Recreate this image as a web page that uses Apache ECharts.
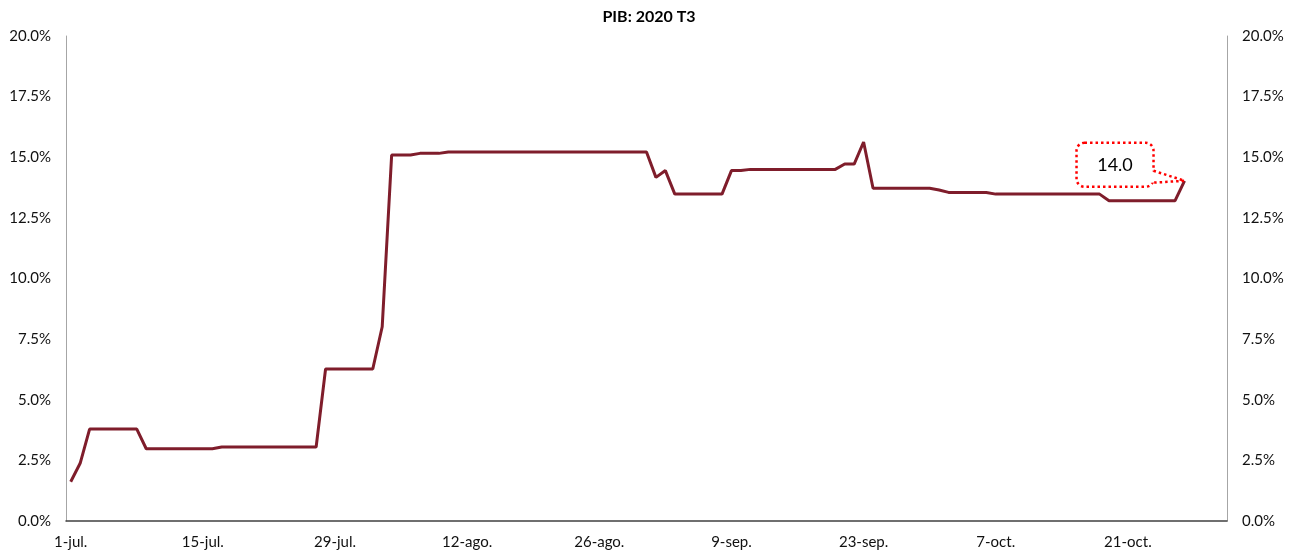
<!DOCTYPE html>
<html>
<head>
<meta charset="utf-8">
<script src="https://cdn.jsdelivr.net/npm/echarts@6/dist/echarts.min.js"></script>
<style>
html,body{margin:0;padding:0;background:#fff;}
#chart{width:1298px;height:558px;}
</style>
</head>
<body>
<div id="chart"></div>
<script>
const title = 'PIB: 2020 T3';

const categories = [
'1-jul.','2-jul.','3-jul.','4-jul.','5-jul.','6-jul.','7-jul.','8-jul.','9-jul.','10-jul.',
'11-jul.','12-jul.','13-jul.','14-jul.','15-jul.','16-jul.','17-jul.','18-jul.','19-jul.','20-jul.',
'21-jul.','22-jul.','23-jul.','24-jul.','25-jul.','26-jul.','27-jul.','28-jul.','29-jul.','30-jul.','31-jul.',
'1-ago.','2-ago.','3-ago.','4-ago.','5-ago.','6-ago.','7-ago.','8-ago.','9-ago.','10-ago.',
'11-ago.','12-ago.','13-ago.','14-ago.','15-ago.','16-ago.','17-ago.','18-ago.','19-ago.','20-ago.',
'21-ago.','22-ago.','23-ago.','24-ago.','25-ago.','26-ago.','27-ago.','28-ago.','29-ago.','30-ago.','31-ago.',
'1-sep.','2-sep.','3-sep.','4-sep.','5-sep.','6-sep.','7-sep.','8-sep.','9-sep.','10-sep.',
'11-sep.','12-sep.','13-sep.','14-sep.','15-sep.','16-sep.','17-sep.','18-sep.','19-sep.','20-sep.',
'21-sep.','22-sep.','23-sep.','24-sep.','25-sep.','26-sep.','27-sep.','28-sep.','29-sep.','30-sep.',
'1-oct.','2-oct.','3-oct.','4-oct.','5-oct.','6-oct.','7-oct.','8-oct.','9-oct.','10-oct.',
'11-oct.','12-oct.','13-oct.','14-oct.','15-oct.','16-oct.','17-oct.','18-oct.','19-oct.','20-oct.',
'21-oct.','22-oct.','23-oct.','24-oct.','25-oct.','26-oct.','27-oct.','28-oct.','29-oct.','30-oct.','31-oct.'
];

// PIB 2020 T3 nowcast (%), daily from 1-jul. to 27-oct.
const values = [
1.62, 2.38,
3.79, 3.79, 3.79, 3.79, 3.79, 3.79,
2.98, 2.98, 2.98, 2.98, 2.98, 2.98, 2.98, 2.98,
3.05, 3.05, 3.05, 3.05, 3.05, 3.05, 3.05, 3.05, 3.05, 3.05, 3.05,
6.27, 6.27, 6.27, 6.27, 6.27, 6.27,
8.01,
15.09, 15.09, 15.09,
15.16, 15.16, 15.16,
15.22, 15.22, 15.22, 15.22, 15.22, 15.22, 15.22, 15.22, 15.22, 15.22, 15.22,
15.22, 15.22, 15.22, 15.22, 15.22, 15.22, 15.22, 15.22, 15.22, 15.22, 15.22,
14.17, 14.45,
13.48, 13.48, 13.48, 13.48, 13.48, 13.48,
14.45, 14.45,
14.50, 14.50, 14.50, 14.50, 14.50, 14.50, 14.50, 14.50, 14.50, 14.50,
14.72, 14.72,
15.63,
13.72, 13.72, 13.72, 13.72, 13.72, 13.72, 13.72,
13.65,
13.55, 13.55, 13.55, 13.55, 13.55,
13.48, 13.48, 13.48, 13.48, 13.48, 13.48, 13.48, 13.48, 13.48, 13.48, 13.48, 13.48,
13.21, 13.21, 13.21, 13.21, 13.21, 13.21, 13.21, 13.21,
14.03
];

const yTicks = [0, 2.5, 5, 7.5, 10, 12.5, 15, 17.5, 20];

const FONT = 'Lato, "Open Sans", sans-serif';
const LINE = '#7f1d2b';
const RED = '#ff0000';

const chart = echarts.init(document.getElementById('chart'), null, {renderer: 'canvas'});

const yAxisCommon = {
  type: 'value',
  min: yTicks[0],
  max: yTicks[yTicks.length - 1],
  interval: 2.5,
  splitLine: {show: false},
  axisTick: {show: false},
  axisLine: {show: true, lineStyle: {color: '#a6a6a6', width: 1}},
  axisLabel: {
    color: '#111',
    fontFamily: FONT,
    fontSize: 15,
    margin: 15,
    formatter: v => v.toFixed(1) + '%'
  }
};

const option = {
  animation: false,
  backgroundColor: '#fff',
  title: {
    text: title,
    left: 'center',
    top: 4,
    textStyle: {fontFamily: FONT, fontSize: 16, fontWeight: 'bold', color: '#000'}
  },
  grid: {left: 66, right: 71, top: 36, bottom: 37, containLabel: false},
  xAxis: {
    type: 'category',
    data: categories,
    boundaryGap: true,
    axisTick: {show: false},
    axisLine: {show: true, onZero: false, lineStyle: {color: '#404040', width: 1.5}},
    axisLabel: {
      interval: 13,
      color: '#111',
      fontFamily: FONT,
      fontSize: 15,
      margin: 14
    },
    splitLine: {show: false}
  },
  yAxis: [
    Object.assign({}, yAxisCommon, {position: 'left'}),
    Object.assign({}, yAxisCommon, {position: 'right'})
  ],
  series: [{
    type: 'line',
    data: values,
    yAxisIndex: 0,
    showSymbol: false,
    symbol: 'none',
    lineStyle: {color: LINE, width: 3},
    itemStyle: {color: LINE},
    z: 3
  }]
};

chart.setOption(option);

// callout on last point, positioned through the chart's own scales
const last = values.length - 1;
const p = chart.convertToPixel({xAxisIndex: 0, yAxisIndex: 0}, [last, values[last]]);
const bx = p[0] - 108, by = p[1] - 38, bw = 77, bh = 44;
const dot = {stroke: RED, lineWidth: 2.5, lineDash: [2.5, 3], fill: null};
chart.setOption({
  graphic: [
    {
      type: 'rect', z: 10,
      shape: {x: bx, y: by, width: bw, height: bh, r: 8},
      style: Object.assign({}, dot, {fill: '#fff'})
    },
    {
      type: 'polygon', z: 11,
      shape: {points: [[bx + bw - 3, p[1] - 10], [p[0] - 1, p[1]], [bx + bw - 3, p[1] + 2]]},
      style: {fill: '#fff', stroke: null}
    },
    {
      type: 'polyline', z: 12,
      shape: {points: [[bx + bw, p[1] - 10], [p[0], p[1]], [bx + bw - 2, p[1] + 2]]},
      style: dot
    },
    {
      type: 'text', z: 13,
      style: {
        text: values[last].toFixed(1),
        x: bx + bw / 2, y: by + bh / 2,
        align: 'center', verticalAlign: 'middle',
        fontFamily: FONT, fontSize: 18, fill: '#000'
      }
    }
  ]
});
</script>
</body>
</html>
